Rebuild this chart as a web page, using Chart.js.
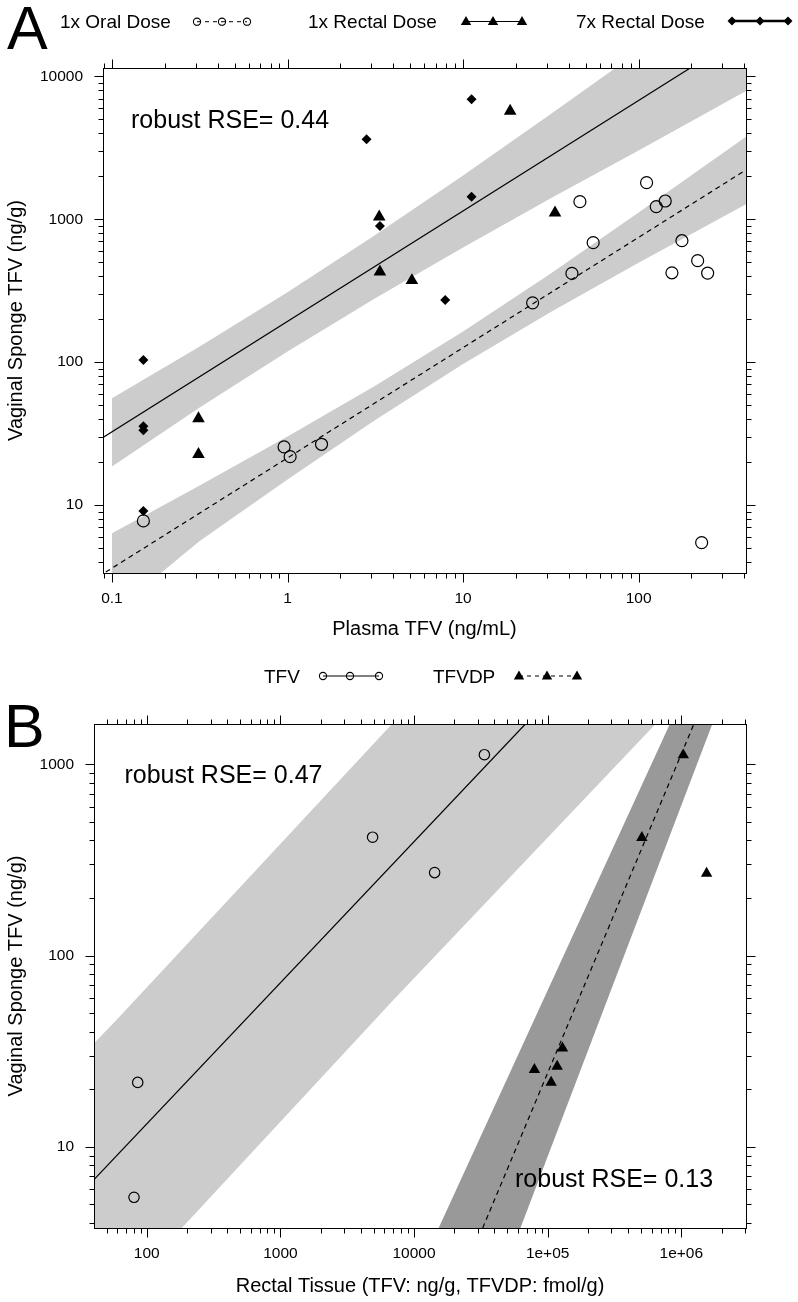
<!DOCTYPE html>
<html><head><meta charset="utf-8">
<script src="https://cdn.jsdelivr.net/npm/chart.js@4.4.1/dist/chart.umd.min.js"></script>
<style>
html,body{margin:0;padding:0;background:#fff;}
#wrap{position:relative;width:798px;height:1302px;overflow:hidden;font-family:'Liberation Sans',Arial,sans-serif;color:#000;}
canvas{position:absolute;left:0;}
.t{position:absolute;white-space:nowrap;line-height:1;}
</style></head><body>
<div id="wrap">
<canvas id="cA" width="798" height="650" style="top:0"></canvas>
<canvas id="cB" width="798" height="652" style="top:650px"></canvas>
<div class="t" style="left:7px;top:-2px;font-size:61px">A</div>
<div class="t" style="left:60px;top:11.6px;font-size:19px">1x Oral Dose</div>
<div class="t" style="left:308px;top:11.6px;font-size:19px">1x Rectal Dose</div>
<div class="t" style="left:576px;top:11.6px;font-size:19px">7x Rectal Dose</div>
<div class="t" style="left:4px;top:696px;font-size:61px">B</div>
<div class="t" style="left:264px;top:666.7px;font-size:19px">TFV</div>
<div class="t" style="left:433px;top:666.7px;font-size:19px">TFVDP</div>
</div>
<script>
// ================= Panel A data =================
const oralX = [111, 46.3, 126, 141.8, 55.1, 176.5, 41.7, 216.9, 154.8, 247.3, 24.9, 0.151, 0.956, 1.035, 1.562, 228.6];
const oralY = [1805, 1328, 1225, 1343, 686, 708, 418, 513, 422, 420, 260, 7.73, 25.5, 21.8, 26.6, 5.45];
const rect1X = [3.33, 3.36, 5.11, 18.55, 33.4, 0.311, 0.311];
const rect1Y = [1041, 428, 373, 5729, 1110, 40.2, 22.6];
const rect7X = [2.82, 3.36, 11.18, 11.18, 7.91, 0.151, 0.151, 0.151, 0.151];
const rect7Y = [3636, 898, 6934, 1440, 272, 103.3, 35.6, 33.4, 9.08];
// fitted lines (read at plot edges)
const fitRectX = [0.0889, 196.8];
const fitRectY = [29.7, 11455];
const fitOralX = [0.0922, 409];
const fitOralY = [3.39, 2216];
// prediction bands (edges)
const bandRectUpX = [0.1, 0.316, 1, 3.16, 10, 31.6, 73.8, 409];
const bandRectUpY = [55.8, 128.4, 308.4, 776, 2027, 5452, 11455, 11455];
const bandRectLoX = [0.1, 0.316, 1, 3.16, 10, 31.6, 100, 409];
const bandRectLoY = [18.6, 48.2, 118.7, 280, 634, 1401, 3034, 7900];
const bandOralUpX = [0.1, 0.316, 1, 3.16, 10, 31.6, 100, 409];
const bandOralUpY = [6.35, 13.7, 30.1, 68.3, 163.6, 418, 1114, 3780];
const bandOralLoX = [0.1, 0.19, 0.316, 1, 3.16, 10, 31.6, 100, 409];
const bandOralLoY = [3.34, 3.34, 5.6, 15.1, 39.4, 97, 224, 496, 1274];
// axes
const xRangeA = [0.0889, 409];
const yRangeA = [3.34, 11455];
const xTicksA = [0.1, 1, 10, 100];
const xLabelsA = ['0.1', '1', '10', '100'];
const yTicksA = [10, 100, 1000, 10000];
const yLabelsA = ['10', '100', '1000', '10000'];

// ================= Panel B data =================
const tfvX = [4898, 14266, 33620, 85.6, 80.3];
const tfvY = [415.6, 271.4, 1122, 21.7, 5.44];
const tfvdpX = [1.035e6, 5.07e5, 1.547e6, 1.291e5, 79620, 1.178e5, 1.062e5];
const tfvdpY = [1118, 413, 269, 32.8, 25.3, 26.3, 21.7];
const fitTfvX = [40.3, 68180];
const fitTfvY = [6.73, 1624];
const fitDpX = [32650, 1.243e6];
const fitDpY = [3.76, 1624];
const bandTfvUpX = [40.3, 59.6, 6841, 6.42e5];
const bandTfvUpY = [34.8, 46.1, 1624, 1624];
const bandTfvLoX = [40.3, 183, 7034, 6.42e5];
const bandTfvLoY = [3.76, 3.76, 58.7, 1624];
const bandDpUpX = [15290, 8.21e5, 1.707e6];
const bandDpUpY = [3.76, 1624, 1624];
const bandDpLoX = [15290, 62560, 1.707e6];
const bandDpLoY = [3.76, 3.76, 1624];
const xRangeB = [40.3, 3.05e6];
const yRangeB = [3.76, 1624];
const xTicksB = [100, 1000, 10000, 1e5, 1e6];
const xLabelsB = ['100', '1000', '10000', '1e+05', '1e+06'];
const yTicksB = [10, 100, 1000];
const yLabelsB = ['10', '100', '1000'];

// ================= helpers =================
const FONT = "'Liberation Sans', Arial, sans-serif";
Chart.defaults.font.family = FONT;
Chart.defaults.color = '#000';
function pts(xs, ys) { return xs.map((x, i) => ({x: x, y: ys[i]})); }
const CLEAR = 'rgba(0,0,0,0)';

function pointSet(xs, ys, style, r, filled) {
  return {data: pts(xs, ys), showLine: false, pointStyle: style, pointRadius: r,
    pointBorderColor: '#000', pointBackgroundColor: filled ? '#000' : CLEAR,
    pointBorderWidth: filled ? 0 : 1.2, borderColor: '#000', backgroundColor: filled ? '#000' : CLEAR};
}
function lineSet(xs, ys, dash) {
  return {data: pts(xs, ys), showLine: true, pointRadius: 0, borderColor: '#000',
    borderWidth: 1.2, borderDash: dash || [], backgroundColor: CLEAR, fill: false, tension: 0};
}
function bandSet(xs, ys, color, fill) {
  return {data: pts(xs, ys), showLine: true, pointRadius: 0, borderColor: CLEAR,
    borderWidth: 0, backgroundColor: color, fill: fill, tension: 0};
}

function tickList(min, max) {
  const out = [];
  for (let e = Math.floor(Math.log10(min)); e <= Math.ceil(Math.log10(max)); e++) {
    for (let m = 1; m <= 9; m++) {
      const v = m * Math.pow(10, e);
      if (v >= min * 0.9999 && v <= max * 1.0001) out.push({v: v, major: m === 1});
    }
  }
  return out;
}

function line(ctx, x1, y1, x2, y2) { ctx.beginPath(); ctx.moveTo(x1, y1); ctx.lineTo(x2, y2); ctx.stroke(); }
function marker(ctx, style, r, x, y, filled) {
  ctx.save();
  ctx.fillStyle = '#000'; ctx.strokeStyle = '#000'; ctx.lineWidth = 1.1;
  ctx.beginPath();
  if (style === 'circle') { ctx.arc(x, y, r, 0, Math.PI * 2); }
  else if (style === 'triangle') { ctx.moveTo(x, y - r); ctx.lineTo(x + r * 0.866, y + r / 2); ctx.lineTo(x - r * 0.866, y + r / 2); ctx.closePath(); }
  else if (style === 'diamond') { ctx.moveTo(x - r, y); ctx.lineTo(x, y - r); ctx.lineTo(x + r, y); ctx.lineTo(x, y + r); ctx.closePath(); }
  if (filled) ctx.fill(); else ctx.stroke();
  ctx.restore();
}

const decoPlugin = {
  id: 'deco',
  afterDraw(chart, args, opts) {
    const ctx = chart.ctx;
    const {left, right, top, bottom} = chart.chartArea;
    const xs = chart.scales.x, ys = chart.scales.y;
    ctx.save();
    ctx.strokeStyle = '#000'; ctx.lineWidth = 1; ctx.setLineDash([]);
    const L = Math.round(left) + 0.5, R = Math.round(right) + 0.5, T = Math.round(top) + 0.5, B = Math.round(bottom) + 0.5;
    ctx.strokeRect(L, T, R - L, B - T);
    const big = 9, small = 5;
    tickList(xs.min, xs.max).forEach(t => {
      const p = Math.round(xs.getPixelForValue(t.v)) + 0.5;
      const len = t.major ? big : small;
      line(ctx, p, B, p, B + len);
      line(ctx, p, T, p, T - len);
    });
    tickList(ys.min, ys.max).forEach(t => {
      const p = Math.round(ys.getPixelForValue(t.v)) + 0.5;
      const len = t.major ? big : small;
      line(ctx, L, p, L - len, p);
      line(ctx, R, p, R + len, p);
    });
    ctx.restore();
    // annotation texts
    ctx.save();
    ctx.fillStyle = '#000';
    ctx.textBaseline = 'alphabetic'; ctx.textAlign = 'left';
    (opts.texts || []).forEach(t => { ctx.font = t.size + 'px ' + FONT; ctx.fillText(t.text, t.x, t.y); });
    ctx.restore();
    if (opts.legend) opts.legend(ctx);
  }
};

function scaleOpts(range, ticks, labels, axis, size, title) {
  const o = {
    type: 'logarithmic', position: axis === 'x' ? 'bottom' : 'left',
    min: range[0], max: range[1],
    afterBuildTicks: s => { s.ticks = ticks.map(v => ({value: v})); },
    grid: {display: false, drawTicks: false}, border: {display: false},
    ticks: {autoSkip: false, maxRotation: 0, minRotation: 0, padding: axis === 'x' ? 16.5 : 20,
      color: '#000', font: {size: 15.5}, callback: (v, i) => labels[i]},
    title: {display: true, text: title, color: '#000', font: {size: 20}, padding: 0}
  };
  if (axis === 'x') o.afterFit = s => { s.height = size; };
  else o.afterFit = s => { s.width = size; };
  return o;
}

// ================= Chart A =================
new Chart(document.getElementById('cA'), {
  type: 'scatter',
  data: {datasets: [
    pointSet(oralX, oralY, 'circle', 6, false),
    pointSet(rect1X, rect1Y, 'triangle', 7.3, true),
    pointSet(rect7X, rect7Y, 'rectRot', 5, true),
    lineSet(fitRectX, fitRectY),
    lineSet(fitOralX, fitOralY, [5, 4]),
    bandSet(bandRectUpX, bandRectUpY, '#cccccc', '+1'),
    bandSet(bandRectLoX, bandRectLoY, '#cccccc', false),
    bandSet(bandOralUpX, bandOralUpY, '#cccccc', '+1'),
    bandSet(bandOralLoX, bandOralLoY, '#cccccc', false)
  ]},
  options: {
    responsive: false, animation: false, events: [],
    layout: {padding: {top: 68, right: 52, bottom: 9, left: 4}},
    scales: {
      x: scaleOpts(xRangeA, xTicksA, xLabelsA, 'x', 68, 'Plasma TFV (ng/mL)'),
      y: scaleOpts(yRangeA, yTicksA, yLabelsA, 'y', 99, 'Vaginal Sponge TFV (ng/g)')
    },
    plugins: {
      legend: {display: false}, tooltip: {enabled: false},
      deco: {
        texts: [{text: 'robust RSE= 0.44', x: 131, y: 128.3, size: 25}],
        legend: ctx => {
          ctx.save(); ctx.strokeStyle = '#000'; ctx.lineWidth = 1;
          ctx.setLineDash([4, 4]); line(ctx, 197, 21.7, 247, 21.7); ctx.setLineDash([]);
          [197, 222, 247].forEach(x => marker(ctx, 'circle', 3.6, x, 21.7, false));
          line(ctx, 466, 21.5, 522, 21.5);
          [466, 493, 522].forEach(x => marker(ctx, 'triangle', 6, x, 22, true));
          ctx.lineWidth = 2.5; line(ctx, 732, 21, 788, 21);
          [732, 760, 788].forEach(x => marker(ctx, 'diamond', 4.5, x, 21, true));
          ctx.restore();
        }
      }
    }
  },
  plugins: [decoPlugin]
});

// ================= Chart B =================
new Chart(document.getElementById('cB'), {
  type: 'scatter',
  data: {datasets: [
    pointSet(tfvX, tfvY, 'circle', 5.2, false),
    pointSet(tfvdpX, tfvdpY, 'triangle', 6.6, true),
    lineSet(fitTfvX, fitTfvY),
    lineSet(fitDpX, fitDpY, [5, 4]),
    bandSet(bandTfvUpX, bandTfvUpY, '#cccccc', '+1'),
    bandSet(bandTfvLoX, bandTfvLoY, '#cccccc', false),
    bandSet(bandDpUpX, bandDpUpY, '#999999', '+1'),
    bandSet(bandDpLoX, bandDpLoY, '#999999', false)
  ]},
  options: {
    responsive: false, animation: false, events: [],
    layout: {padding: {top: 74, right: 52, bottom: 4, left: 4}},
    scales: {
      x: scaleOpts(xRangeB, xTicksB, xLabelsB, 'x', 70, 'Rectal Tissue (TFV: ng/g, TFVDP: fmol/g)'),
      y: scaleOpts(yRangeB, yTicksB, yLabelsB, 'y', 90, 'Vaginal Sponge TFV (ng/g)')
    },
    plugins: {
      legend: {display: false}, tooltip: {enabled: false},
      deco: {
        texts: [{text: 'robust RSE= 0.47', x: 124.4, y: 133.3, size: 25},
                {text: 'robust RSE= 0.13', x: 515, y: 536.7, size: 25}],
        legend: ctx => {
          ctx.save(); ctx.strokeStyle = '#000'; ctx.lineWidth = 1;
          line(ctx, 323, 26, 379, 26);
          [323, 350, 379].forEach(x => marker(ctx, 'circle', 3.6, x, 26, false));
          ctx.setLineDash([4, 4]); line(ctx, 519, 26, 577, 26); ctx.setLineDash([]);
          [519, 547, 577].forEach(x => marker(ctx, 'triangle', 6, x, 26.5, true));
          ctx.restore();
        }
      }
    }
  },
  plugins: [decoPlugin]
});
</script>
</body></html>
